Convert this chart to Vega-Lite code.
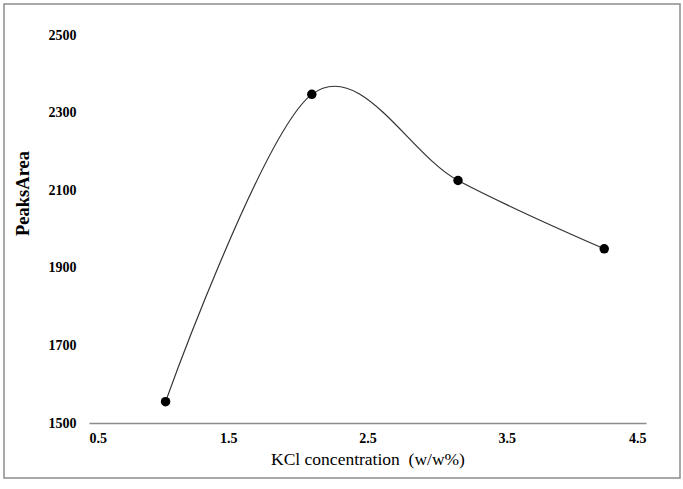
{
  "$schema": "https://vega.github.io/schema/vega-lite/v6.json",
  "autosize": "none",
  "padding": {"left": 4, "top": 4, "right": 3, "bottom": 11},
  "width": 676,
  "height": 474,
  "background": "white",
  "config": {
    "view": {"stroke": "#8c8c8c", "strokeWidth": 1.5},
    "font": "Liberation Serif"
  },
  "data": {
    "values": [
      {"kcl": 1.05, "area": 1555},
      {"kcl": 2.1, "area": 2347},
      {"kcl": 3.15, "area": 2125},
      {"kcl": 4.2, "area": 1949}
    ]
  },
  "encoding": {
    "x": {
      "field": "kcl",
      "type": "quantitative",
      "scale": {"domain": [0.5, 4.5], "range": [85, 642], "nice": false, "zero": false},
      "axis": {
        "title": "KCl concentration \u00a0(w/w%)",
        "values": [0.5, 1.5, 2.5, 3.5, 4.5],
        "format": ".1f",
        "offset": -55,
        "grid": false,
        "ticks": false,
        "domainColor": "#8c8c8c",
        "domainWidth": 1.5,
        "labelFont": "Liberation Serif",
        "labelFontWeight": "bold",
        "labelFontSize": 14,
        "labelColor": "black",
        "labelPadding": 8,
        "titleFont": "Liberation Serif",
        "titleFontWeight": "normal",
        "titleFontSize": 17.5,
        "titleColor": "black",
        "titlePadding": 5
      }
    },
    "y": {
      "field": "area",
      "type": "quantitative",
      "scale": {"domain": [1500, 2500], "range": [419, 31], "nice": false, "zero": false},
      "axis": {
        "title": "PeaksArea",
        "values": [1500, 1700, 1900, 2100, 2300, 2500],
        "format": "d",
        "offset": -74,
        "grid": false,
        "ticks": false,
        "domain": false,
        "labelFont": "Liberation Serif",
        "labelFontWeight": "bold",
        "labelFontSize": 14,
        "labelColor": "black",
        "labelPadding": 2,
        "titleFont": "Liberation Serif",
        "titleFontWeight": "bold",
        "titleFontSize": 18.5,
        "titleColor": "black",
        "titleBaseline": "middle",
        "titleX": -56,
        "titleY": 189
      }
    }
  },
  "layer": [
    {
      "mark": {"type": "line", "interpolate": "cardinal", "color": "#333333", "strokeWidth": 1.2}
    },
    {
      "mark": {"type": "point", "filled": true, "shape": "circle", "size": 90, "color": "black", "opacity": 1}
    }
  ]
}
